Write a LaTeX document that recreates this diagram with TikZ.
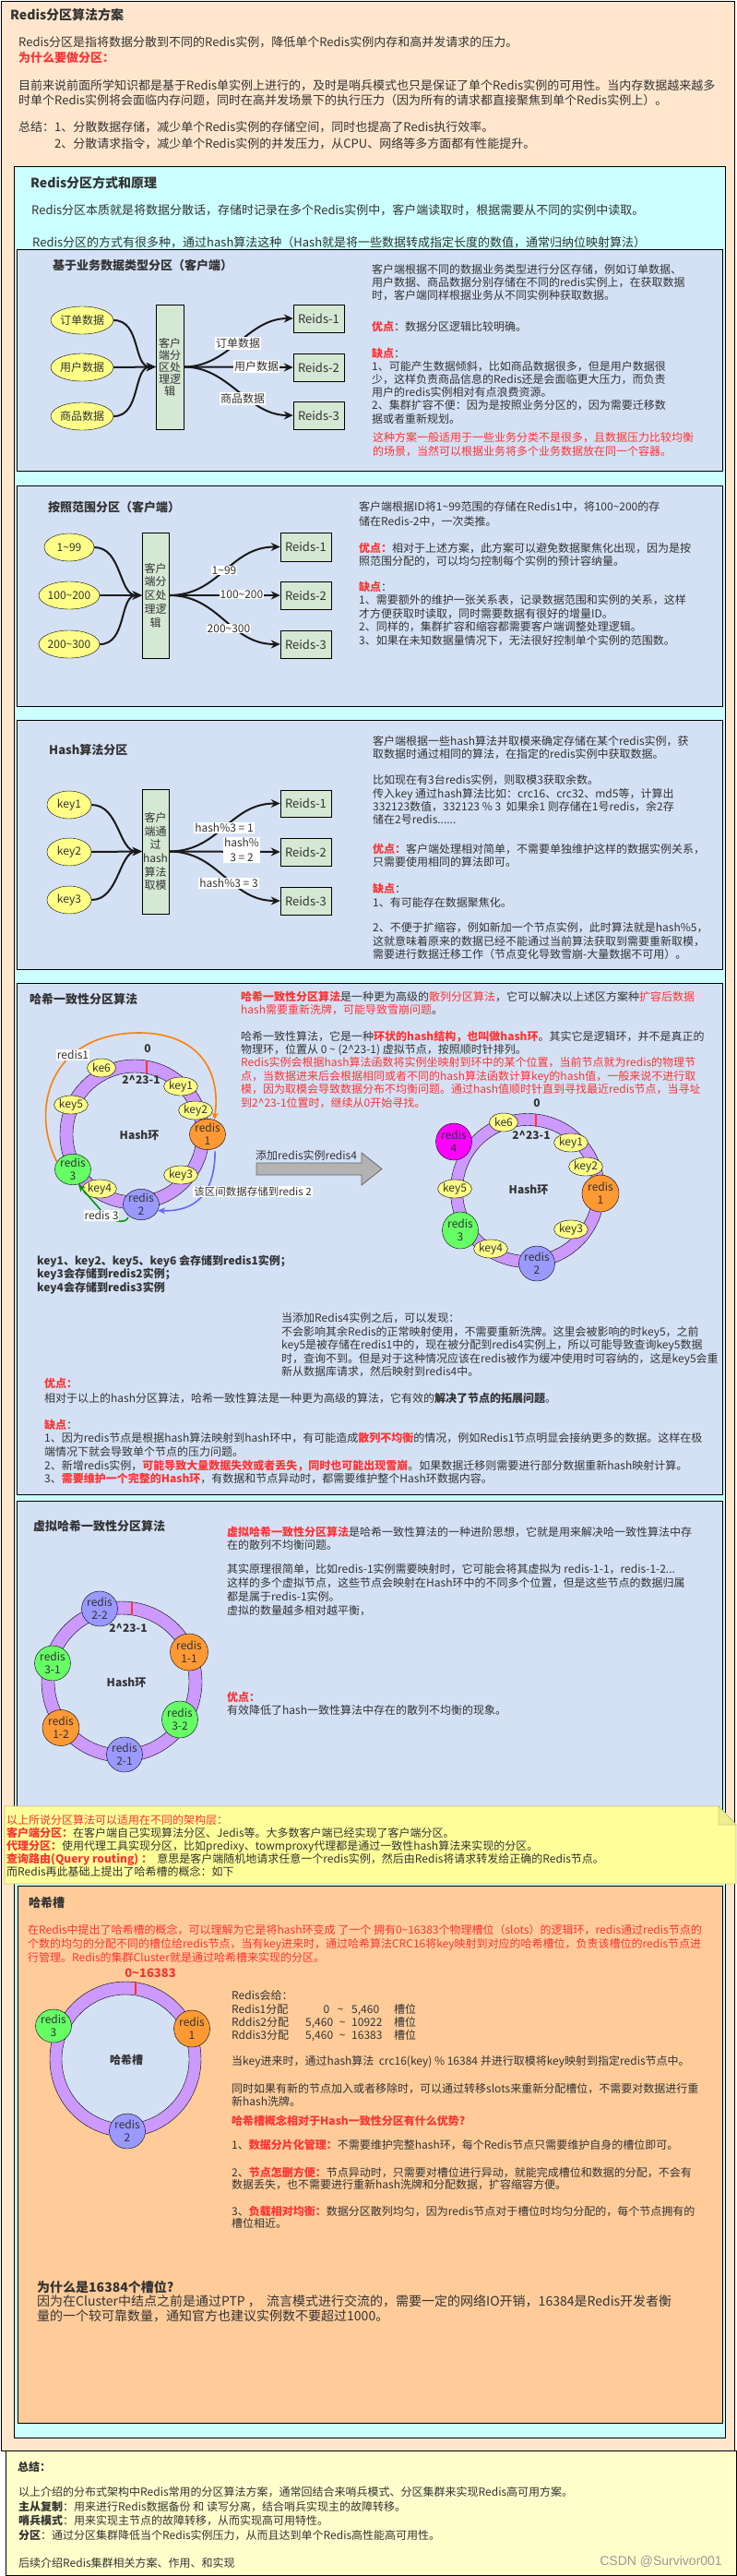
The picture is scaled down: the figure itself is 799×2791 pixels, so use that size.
\documentclass[tikz,border=0pt]{standalone}
\usepackage{fontspec}
\setmainfont{Noto Sans CJK SC}
\newfontfamily\wmfont{Liberation Sans}
\usetikzlibrary{shapes.geometric,arrows.meta}
\definecolor{peach}{HTML}{FFE6CC}
\definecolor{cyanbg}{HTML}{CCFFFF}
\definecolor{boxbg}{HTML}{D4E1F5}
\definecolor{slotbg}{HTML}{FFCC99}
\definecolor{keyy}{HTML}{FFFF88}
\definecolor{procg}{HTML}{D5E8D4}
\definecolor{ringc}{HTML}{CC99FF}
\definecolor{ornode}{HTML}{FF9933}
\definecolor{grnode}{HTML}{66FF66}
\definecolor{blnode}{HTML}{9999FF}
\definecolor{mgnode}{HTML}{FF00FF}
\definecolor{notebg}{HTML}{FFFF99}
\definecolor{notebd}{HTML}{C8C878}
\definecolor{sumbg}{HTML}{FFFFCC}
\definecolor{redc}{HTML}{FF3333}
\definecolor{txtc}{HTML}{333333}
\definecolor{arrc}{HTML}{1A1A1A}
\definecolor{orline}{HTML}{FF8000}
\definecolor{blline}{HTML}{6666FF}
\definecolor{grline}{HTML}{009900}
\definecolor{bigarr}{HTML}{B3B3B3}
\newcommand\myrb[1]{\textcolor{redc}{\textbf{#1}}}
\newcommand\myrd[1]{\textcolor{redc}{#1}}
\newcommand\mybf[1]{\textbf{#1}}
\newcommand\mypara[6]{\node[para,font=\fontsize{#4}{#5}\selectfont] (#1) at (#2,#3-0.455*#4) {#6};}
\begin{document}
\begin{tikzpicture}[x=1pt,y=-1pt,
  para/.style={anchor=north west,inner sep=0pt,align=left,text=txtc},
  box/.style={draw=black,line width=0.8pt},
  inkey/.style={ellipse,draw=black,fill=keyy,inner sep=0pt,minimum height=30pt,text=txtc,font=\fontsize{12}{12}\selectfont},
  proc/.style={rectangle,draw=black,fill=procg,inner sep=0pt,minimum width=30pt,align=center,text=txtc},
  inst/.style={rectangle,draw=black,fill=procg,inner sep=0pt,minimum width=55pt,minimum height=30pt,text=txtc,font=\fontsize{13}{13}\selectfont},
  lbl/.style={fill=white,inner sep=1pt,text=txtc,align=center,font=\fontsize{12}{13}\selectfont},
  flow/.style={line width=2pt,draw=arrc,-{Stealth[length=10pt,width=9pt]}},
  kn/.style={ellipse,draw=black,fill=keyy,inner sep=0pt,minimum width=31pt,minimum height=20pt,text=txtc,font=\fontsize{12}{12}\selectfont},
  rn/.style={ellipse,draw=black,inner sep=0pt,align=center,text=txtc,font=\fontsize{12}{14}\selectfont},
  rl/.style={inner sep=0pt,text=txtc,font=\fontsize{12}{12}\selectfont\bfseries},
  cline/.style={line width=1.6pt,-{Stealth[length=8pt,width=7pt]}}
]
\useasboundingbox (0,0) rectangle (799,2791);
% ---------- backgrounds ----------
\draw[box,fill=peach] (1.5,1) rectangle (796.5,2655);
\draw[box,fill=cyanbg] (15,180) rectangle (786,2641);
\draw[box,fill=boxbg] (18,270) rectangle (783,510);
\draw[box,fill=boxbg] (18,526) rectangle (783,765);
\draw[box,fill=boxbg] (18,780) rectangle (783,1050);
\draw[box,fill=boxbg] (18,1065) rectangle (783,1619);
\draw[box,fill=boxbg] (18,1626) rectangle (783,1990);
\draw[box,fill=slotbg] (19,2043) rectangle (783,2625);
\draw[box,fill=sumbg] (6,2655) rectangle (798,2790);

% ---------- header ----------
\mypara{tt}{11}{15}{14}{17}{\mybf{Redis分区算法方案}}
\mypara{h1}{20}{45}{13}{17}{Redis分区是指将数据分散到不同的Redis实例，降低单个Redis实例内存和高并发请求的压力。\\\myrb{为什么要做分区：}}
\mypara{h2}{20}{92}{13}{16.5}{目前来说前面所学知识都是基于Redis单实例上进行的，及时是哨兵模式也只是保证了单个Redis实例的可用性。当内存数据越来越多\\时单个Redis实例将会面临内存问题，同时在高并发场景下的执行压力（因为所有的请求都直接聚焦到单个Redis实例上）。}
\mypara{h3}{20}{137}{13}{17}{总结：1、分散数据存储，减少单个Redis实例的存储空间，同时也提高了Redis执行效率。}
\mypara{h4}{59}{155}{13}{17}{2、分散请求指令，减少单个Redis实例的并发压力，从CPU、网络等多方面都有性能提升。}
\mypara{c0}{33}{197}{14}{17}{\mybf{Redis分区方式和原理}}
\mypara{c1t}{34}{227}{13}{17}{Redis分区本质就是将数据分散话，存储时记录在多个Redis实例中，客户端读取时，根据需要从不同的实例中读取。}
\mypara{c2t}{35}{262}{13}{17}{Redis分区的方式有很多种，通过hash算法这种（Hash就是将一些数据转成指定长度的数值，通常归纳位映射算法）}

% ---------- box 1 ----------
\mypara{b1h}{57}{287}{13}{15}{\mybf{基于业务数据类型分区（客户端）}}
\node[inkey,minimum width=51pt] (e11) at (89,347) {订单数据};
\node[inkey,minimum width=51pt] (e12) at (89,398) {用户数据};
\node[inkey,minimum width=51pt] (e13) at (89,451) {商品数据};
\node[proc,minimum height=135pt,font=\fontsize{12}{13}\selectfont] (p1) at (184,397.5) {客户\\端分\\区处\\理逻\\辑};
\node[inst] (r11) at (345.5,345) {Reids-1};
\node[inst] (r12) at (345.5,398) {Reids-2};
\node[inst] (r13) at (345.5,450) {Reids-3};
\draw[flow] (e11.east) .. controls +(30,0) and +(-25,0) .. (p1.west);
\draw[flow] (e12.east) -- (p1.west);
\draw[flow] (e13.east) .. controls +(30,0) and +(-25,0) .. (p1.west);
\draw[flow] (p1.east) .. controls +(50,0) and +(-50,0) .. (r11.west);
\draw[flow] (p1.east) -- (r12.west);
\draw[flow] (p1.east) .. controls +(50,0) and +(-50,0) .. (r13.west);
\node[lbl] (l11) at (258,372) {订单数据};
\node[lbl] (l12) at (278,397) {用户数据};
\node[lbl] (l13) at (263,432) {商品数据};
\mypara{b1a}{403}{292}{12}{13.7}{客户端根据不同的数据业务类型进行分区存储，例如订单数据、\\用户数据、商品数据分别存储在不同的redis实例上，在获取数据\\时，客户端同样根据业务从不同实例种获取数据。}
\mypara{b1b}{403}{353}{12}{14}{\myrb{优点}：数据分区逻辑比较明确。}
\mypara{b1c}{403}{382}{12}{14.2}{\myrb{缺点}：\\1、可能产生数据倾斜，比如商品数据很多，但是用户数据很\\少，这样负责商品信息的Redis还是会面临更大压力，而负责\\用户的redis实例相对有点浪费资源。\\2、集群扩容不便：因为是按照业务分区的，因为需要迁移数\\据或者重新规划。}
\mypara{b1d}{404}{474}{12}{15}{\myrd{这种方案一般适用于一些业务分类不是很多，且数据压力比较均衡}\\\myrd{的场景，当然可以根据业务将多个业务数据放在同一个容器。}}

% ---------- box 2 ----------
\mypara{b2h}{52}{549}{13}{15}{\mybf{按照范围分区（客户端）}}
\node[inkey,minimum width=54pt] (e21) at (75,593) {1\textasciitilde99};
\node[inkey,minimum width=54pt] (e22) at (75,645) {100\textasciitilde200};
\node[inkey,minimum width=54pt] (e23) at (75,698) {200\textasciitilde300};
\node[proc,minimum width=29pt,minimum height=136pt,font=\fontsize{12}{14.8}\selectfont] (p2) at (168.5,645) {客户\\端分\\区处\\理逻\\辑};
\node[inst,minimum height=31pt] (r21) at (331.5,592.5) {Reids-1};
\node[inst] (r22) at (331.5,645) {Reids-2};
\node[inst] (r23) at (331.5,698) {Reids-3};
\draw[flow] (e21.east) .. controls +(30,0) and +(-25,0) .. (p2.west);
\draw[flow] (e22.east) -- (p2.west);
\draw[flow] (e23.east) .. controls +(30,0) and +(-25,0) .. (p2.west);
\draw[flow] (p2.east) .. controls +(55,0) and +(-55,0) .. (r21.west);
\draw[flow] (p2.east) -- (r22.west);
\draw[flow] (p2.east) .. controls +(55,0) and +(-55,0) .. (r23.west);
\node[lbl] (l21) at (243,618) {1\textasciitilde99};
\node[lbl] (l22) at (262,644) {100\textasciitilde200};
\node[lbl] (l23) at (248,681) {200\textasciitilde300};
\mypara{b2a}{389}{549}{12}{15.5}{客户端根据ID将1\textasciitilde99范围的存储在Redis1中，将100\textasciitilde200的存\\储在Redis-2中，一次类推。}
\mypara{b2b}{389}{593}{12}{14}{\myrb{优点：}相对于上述方案，此方案可以避免数据聚焦化出现，因为是按\\照范围分配的，可以均匀控制每个实例的预计容纳量。}
\mypara{b2c}{389}{635}{12}{14.5}{\myrb{缺点}：\\1、需要额外的维护一张关系表，记录数据范围和实例的关系，这样\\才方便获取时读取，同时需要数据有很好的增量ID。\\2、同样的，集群扩容和缩容都需要客户端调整处理逻辑。\\3、如果在未知数据量情况下，无法很好控制单个实例的范围数。}

% ---------- box 3 ----------
\mypara{b3h}{53}{812}{13}{15}{\mybf{Hash算法分区}}
\node[inkey,minimum width=48pt] (e31) at (75,872) {key1};
\node[inkey,minimum width=48pt] (e32) at (75,923) {key2};
\node[inkey,minimum width=48pt] (e33) at (75,975) {key3};
\node[proc,minimum width=29pt,minimum height=135pt,font=\fontsize{12}{14.6}\selectfont] (p3) at (168.5,922.5) {客户\\端通\\过\\hash\\算法\\取模};
\node[inst,minimum height=29pt] (r31) at (331.5,870.5) {Reids-1};
\node[inst] (r32) at (331.5,923) {Reids-2};
\node[inst] (r33) at (331.5,976) {Reids-3};
\draw[flow] (e31.east) .. controls +(30,0) and +(-25,0) .. (p3.west);
\draw[flow] (e32.east) -- (p3.west);
\draw[flow] (e33.east) .. controls +(30,0) and +(-25,0) .. (p3.west);
\draw[flow] (p3.east) .. controls +(55,0) and +(-55,0) .. (r31.west);
\draw[flow] (p3.east) -- (r32.west);
\draw[flow] (p3.east) .. controls +(55,0) and +(-55,0) .. (r33.west);
\node[lbl] (l31) at (243,897) {hash\%3 = 1};
\node[lbl,font=\fontsize{12}{16}\selectfont] (l32) at (262,921) {hash\%\\3 = 2};
\node[lbl] (l33) at (248,957) {hash\%3 = 3};
\mypara{b3a}{404}{803}{12}{14}{客户端根据一些hash算法并取模来确定存储在某个redis实例，获\\取数据时通过相同的算法，在指定的redis实例中获取数据。}
\mypara{b3b}{404}{845}{12}{14.3}{比如现在有3台redis实例，则取模3获取余数。\\传入key 通过hash算法比如：crc16、crc32、md5等，计算出\\332123数值，332123 \% 3~~如果余1 则存储在1号redis，余2存\\储在2号redis......}
\mypara{b3c}{404}{919}{12}{14}{\myrb{优点：}客户端处理相对简单，不需要单独维护这样的数据实例关系，\\只需要使用相同的算法即可。}
\mypara{b3d}{404}{962}{12}{15}{\myrb{缺点}：\\1、有可能存在数据聚焦化。}
\mypara{b3e}{404}{1005}{12}{14.5}{2、不便于扩缩容，例如新加一个节点实例，此时算法就是hash\%5，\\这就意味着原来的数据已经不能通过当前算法获取到需要重新取模，\\需要进行数据迁移工作（节点变化导致雪崩-大量数据不可用）。}

% ---------- box 4 : consistent hashing ----------
\mypara{b4h}{32}{1082}{13}{15}{\mybf{哈希一致性分区算法}}
\mypara{b4a}{261}{1079}{12}{14}{\myrb{哈希一致性分区算法}是一种更为高级的\myrd{散列分区算法}，它可以解决以上述区方案种\myrd{扩容后数据}\\\myrd{hash需要重新洗牌，可能导致雪崩问题}。}
\mypara{b4b}{261}{1122}{12}{14.4}{哈希一致性算法，它是一种\myrb{环状的hash结构，也叫做hash环}。其实它是逻辑环，并不是真正的\\物理环，位置从 0 \textasciitilde{} (2\textasciicircum23-1) 虚拟节点，按照顺时针排列。\\\myrd{Redis实例会根据hash算法函数将实例坐映射到环中的某个位置，当前节点就为redis的物理节}\\\myrd{点，当数据进来后会根据相同或者不同的hash算法函数计算key的hash值，一般来说不进行取}\\\myrd{模，因为取模会导致数据分布不均衡问题。通过hash值顺时针直到寻找最近redis节点，当寻址}\\\myrd{到2\textasciicircum23-1位置时，继续从0开始寻找。}}
% ring 1
\coordinate (hc1) at (146,1229);
\draw[fill=ringc,even odd rule] (hc1) circle (81) (hc1) circle (67);
\draw[redc,line width=2pt] (159,1149) -- (159,1163);
\node[rl] (z1) at (160,1136) {0};
\node[rl] (m1) at (153,1170) {2\textasciicircum23-1};
\node[rl] (t1) at (151,1230) {Hash环};
\node[kn] (k16) at (110,1157) {ke6};
\node[kn] (k11) at (196,1177) {key1};
\node[kn] (k15) at (77,1197) {key5};
\node[kn] (k12) at (212,1203) {key2};
\node[kn] (k13) at (196,1273) {key3};
\node[kn] (k14) at (108,1288) {key4};
\node[rn,fill=ornode,minimum width=31pt,minimum height=32pt] (n11) at (225,1229) {redis\\1};
\node[rn,fill=grnode,minimum width=31pt,minimum height=32pt] (n13) at (79,1267) {redis\\3};
\node[rn,fill=blnode,minimum width=30pt,minimum height=31pt] (n12) at (153,1305) {redis\\2};
\draw[cline,orline] (n13.155) .. controls (32,1200) and (55,1120) .. (150,1119) .. controls (215,1119) and (240,1160) .. (n11.65);
\draw[cline,blline,shorten <=3pt] (n11.-62) .. controls (233,1290) and (215,1313) .. (n12.-20);
\coordinate (g0) at (139,1319);
\draw[cline,grline] (g0) .. controls (136,1327) and (118,1323) .. (110,1312) -- (n13.-70);
\node[lbl] (lr1) at (79,1143) {redis1};
\node[lbl,font=\fontsize{11.5}{12}\selectfont] (lr2) at (274,1291) {该区间数据存储到redis 2};
\node[lbl] (lr3) at (110,1317) {redis 3};
% big arrow
\draw[fill=bigarr,draw=black!60,line width=0.8pt] (278,1260) -- (392,1260) -- (392,1249) -- (414,1266.5) -- (392,1284) -- (392,1273) -- (278,1273) -- cycle;
\node[anchor=west,inner sep=0pt,text=txtc,font=\fontsize{12}{12}\selectfont] (addl) at (277,1252) {添加redis实例redis4};
% ring 2
\coordinate (hc2) at (572,1290);
\draw[fill=ringc,even odd rule] (hc2) circle (83.5) (hc2) circle (70.5);
\draw[redc,line width=2pt] (581,1207) -- (581,1221);
\node[rl] (z2) at (582,1195) {0};
\node[rl] (m2) at (576,1230) {2\textasciicircum23-1};
\node[rl] (t2) at (573,1289) {Hash环};
\node[kn] (k26) at (546,1216) {ke6};
\node[kn] (k21) at (619,1238) {key1};
\node[kn] (k22) at (635,1264) {key2};
\node[kn] (k25) at (493,1288) {key5};
\node[kn] (k23) at (619,1332) {key3};
\node[kn] (k24) at (532,1353) {key4};
\node[rn,fill=mgnode,minimum width=36pt,minimum height=40pt] (n24) at (492,1237) {redis\\4};
\node[rn,fill=ornode,minimum width=40pt,minimum height=40pt] (n21) at (651,1293) {redis\\1};
\node[rn,fill=grnode,minimum width=38pt,minimum height=40pt] (n23) at (499,1333) {redis\\3};
\node[rn,fill=blnode,minimum width=36pt,minimum height=38pt] (n22) at (582,1369) {redis\\2};
\mypara{b4c}{40}{1365}{12}{14.5}{\mybf{key1、key2、key5、key6 会存储到redis1实例；}\\\mybf{key3会存储到redis2实例；}\\\mybf{key4会存储到redis3实例}}
\mypara{b4d}{305}{1428}{12}{14.5}{当添加Redis4实例之后，可以发现：\\不会影响其余Redis的正常映射使用，不需要重新洗牌。这里会被影响的时key5，之前\\key5是被存储在redis1中的，现在被分配到redis4实例上，所以可能导致查询key5数据\\时，查询不到。但是对于这种情况应该在redis被作为缓冲使用时可容纳的，这是key5会重\\新从数据库请求，然后映射到redis4中。}
\mypara{b4e}{48}{1498}{12}{16}{\myrb{优点：}\\相对于以上的hash分区算法，哈希一致性算法是一种更为高级的算法，它有效的\mybf{解决了节点的拓展问题}。}
\mypara{b4f}{48}{1543}{12}{14.7}{\myrb{缺点}：\\1、因为redis节点是根据hash算法映射到hash环中，有可能造成\myrb{散列不均衡}的情况，例如Redis1节点明显会接纳更多的数据。这样在极\\端情况下就会导致单个节点的压力问题。\\2、新增redis实例，\myrb{可能导致大量数据失效或者丢失，同时也可能出现雪崩}。如果数据迁移则需要进行部分数据重新hash映射计算。\\3、\myrb{需要维护一个完整的Hash环}，有数据和节点异动时，都需要维护整个Hash环数据内容。}

% ---------- box 5 : virtual nodes ----------
\mypara{b5h}{36}{1653}{13}{15}{\mybf{虚拟哈希一致性分区算法}}
\mypara{b5a}{246}{1659}{12}{14}{\myrb{虚拟哈希一致性分区算法}是哈希一致性算法的一种进阶思想，它就是用来解决哈一致性算法中存\\在的散列不均衡问题。}
\mypara{b5b}{246}{1700}{12}{15}{其实原理很简单，比如redis-1实例需要映射时，它可能会将其虚拟为 redis-1-1，redis-1-2...\\这样的多个虚拟节点，这些节点会映射在Hash环中的不同多个位置，但是这些节点的数据归属\\都是属于redis-1实例。\\虚拟的数量越多相对越平衡，}
\mypara{b5c}{246}{1838}{12}{14}{\myrb{优点：}\\有效降低了hash一致性算法中存在的散列不均衡的现象。}
\coordinate (hc3) at (132,1822);
\draw[fill=ringc,even odd rule] (hc3) circle (87) (hc3) circle (73);
\draw[redc,line width=2pt] (143,1736) -- (143,1750);
\node[rl] (m3) at (139,1764) {2\textasciicircum23-1};
\node[rl] (t3) at (137,1823) {Hash环};
\node[rn,fill=blnode,minimum width=38pt,minimum height=38pt] (v22) at (108,1743) {redis\\2-2};
\node[rn,fill=ornode,minimum width=41pt,minimum height=40pt] (v11) at (205,1790) {redis\\1-1};
\node[rn,fill=grnode,minimum width=38pt,minimum height=38pt] (v31) at (57,1802) {redis\\3-1};
\node[rn,fill=ornode,minimum width=40pt,minimum height=39pt] (v12) at (66,1872) {redis\\1-2};
\node[rn,fill=grnode,minimum width=38pt,minimum height=40pt] (v32) at (195,1863) {redis\\3-2};
\node[rn,fill=blnode,minimum width=37pt,minimum height=38pt] (v21) at (135,1901) {redis\\2-1};

% note on top of box 5 bottom
\draw[draw=notebd,fill=notebg,line width=0.8pt] (5,1957) -- (779,1957) -- (798,1977) -- (798,2041) -- (5,2041) -- cycle;
\draw[draw=notebd,fill=notebg!70!notebd,line width=0.8pt] (779,1957) -- (779,1977) -- (798,1977) -- cycle;
\mypara{nt}{7}{1972}{12}{14}{\myrd{以上所说分区算法可以适用在不同的架构层：}\\\myrb{客户端分区：}在客户端自己实现算法分区、Jedis等。大多数客户端已经实现了客户端分区。\\\myrb{代理分区：}使用代理工具实现分区，比如predixy、towmproxy代理都是通过一致性hash算法来实现的分区。\\\myrb{查询路由(Query routing) ：}~~意思是客户端随机地请求任意一个redis实例，然后由Redis将请求转发给正确的Redis节点。\\而Redis再此基础上提出了哈希槽的概念：如下}

% ---------- box 6 : hash slot ----------
\mypara{b6h}{31}{2061}{13}{15}{\mybf{哈希槽}}
\mypara{b6a}{30}{2090}{12}{15}{\myrd{在Redis中提出了哈希槽的概念，可以理解为它是将hash环变成 了一个 拥有0\textasciitilde16383个物理槽位（slots）的逻辑环，redis通过redis节点的}\\\myrd{个数的均匀的分配不同的槽位给redis节点，当有key进来时，通过哈希算法CRC16将key映射到对应的哈希槽位，负责该槽位的redis节点进}\\\myrd{行管理。Redis的集群Cluster就是通过哈希槽来实现的分区。}}
\node[inner sep=0pt,font=\fontsize{13}{13}\selectfont\bfseries,text=redc] (sl0) at (163,2138) {0\textasciitilde16383};
\coordinate (hc4) at (136,2231);
\draw[fill=ringc] (hc4) ellipse [x radius=82,y radius=84];
\draw[fill=boxbg] (hc4) ellipse [x radius=69,y radius=70];
\draw[redc,line width=2pt] (147,2147) -- (147,2161);
\node[rl] (t4) at (137,2232) {哈希槽};
\node[rn,fill=grnode,minimum width=37pt,minimum height=36pt] (s3) at (58,2195) {redis\\3};
\node[rn,fill=ornode,minimum width=38pt,minimum height=40pt] (s1) at (208,2198) {redis\\1};
\node[rn,fill=blnode,minimum width=36pt,minimum height=38pt] (s2) at (138,2309) {redis\\2};
\mypara{b6b}{251}{2162}{12}{14}{Redis会给：}
\node[para,font=\fontsize{12}{14}\selectfont] (sr1) at (251,2177-5.46) {\rlap{Redis1分配}\makebox[106pt][r]{0}\makebox[24pt]{\textasciitilde}\makebox[46pt][l]{5,460}槽位};
\node[para,font=\fontsize{12}{14}\selectfont] (sr2) at (251,2191-5.46) {\rlap{Rddis2分配}\makebox[110pt][r]{5,460}\makebox[20pt]{\textasciitilde}\makebox[46pt][l]{10922}槽位};
\node[para,font=\fontsize{12}{14}\selectfont] (sr3) at (251,2205-5.46) {\rlap{Rddis3分配}\makebox[110pt][r]{5,460}\makebox[20pt]{\textasciitilde}\makebox[46pt][l]{16383}槽位};
\mypara{b6c}{251}{2233}{12}{14}{当key进来时，通过hash算法~~crc16(key) \% 16384 并进行取模将key映射到指定redis节点中。}
\mypara{b6d}{251}{2263}{12}{14}{同时如果有新的节点加入或者移除时，可以通过转移slots来重新分配槽位，不需要对数据进行重\\新hash洗牌。}
\mypara{b6e}{251}{2297}{12}{14}{\myrb{哈希槽概念相对于Hash一致性分区有什么优势?}}
\mypara{b6f}{251}{2323}{12}{14}{1、\myrb{数据分片化管理：}不需要维护完整hash环，每个Redis节点只需要维护自身的槽位即可。}
\mypara{b6g}{251}{2353}{12}{13.5}{2、\myrb{节点怎删方便：}节点异动时，只需要对槽位进行异动，就能完成槽位和数据的分配，不会有\\数据丢失，也不需要进行重新hash洗牌和分配数据，扩容缩容方便。}
\mypara{b6i}{251}{2395}{12}{13.5}{3、\myrb{负载相对均衡：}数据分区散列均匀，因为redis节点对于槽位时均匀分配的，每个节点拥有的\\槽位相近。}
\mypara{b6j}{40}{2477}{14}{16}{\mybf{为什么是16384个槽位?}}
\mypara{b6k}{40}{2493}{14}{16}{因为在Cluster中结点之前是通过PTP ，~~流言模式进行交流的，需要一定的网络IO开销，16384是Redis开发者衡\\量的一个较可靠数量，通知官方也建议实例数不要超过1000。}

% ---------- summary ----------
\mypara{sm0}{19}{2672}{12}{14}{\mybf{总结：}}
\mypara{sm1}{20}{2700}{12}{15.5}{以上介绍的分布式架构中Redis常用的分区算法方案，通常回结合来哨兵模式、分区集群来实现Redis高可用方案。\\\mybf{主从复制}：用来进行Redis数据备份 和 读写分离，结合哨兵实现主的故障转移。\\\mybf{哨兵模式}：用来实现主节点的故障转移，从而实现高可用特性。\\\mybf{分区}：通过分区集群降低当个Redis实例压力，从而且达到单个Redis高性能高可用性。}
\mypara{sm2}{20}{2777}{12}{14}{后续介绍Redis集群相关方案、作用、和实现}
\node[anchor=east,inner sep=0pt,text=black!40,font=\wmfont\fontsize{14}{14}\selectfont] (wm) at (783,2775) {CSDN @Survivor001};
\end{tikzpicture}
\end{document}
